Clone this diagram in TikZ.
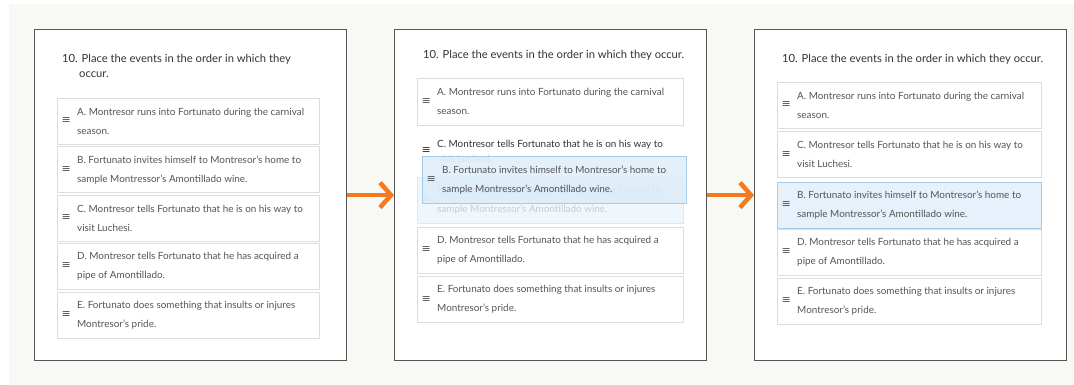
\documentclass[tikz,border=0pt]{standalone}
\usepackage{fontspec}
\setmainfont{Lato}
\newfontfamily\symfont{DejaVu Sans}
\usetikzlibrary{positioning,arrows.meta}

\definecolor{pagebg}{HTML}{F8F8F4}
\definecolor{panelgray}{HTML}{555555}
\definecolor{itemgray}{HTML}{DDDDDD}
\definecolor{textgray}{HTML}{555555}
\definecolor{titlegray}{HTML}{333333}
\definecolor{arroworange}{HTML}{F47A20}
\definecolor{dragblue}{HTML}{DCEBF8}
\definecolor{dragline}{HTML}{A3CBEA}
\definecolor{holdblue}{HTML}{EFF6FC}
\definecolor{holdline}{HTML}{DCEAF6}
\definecolor{hiblue}{HTML}{E6F1FB}
\definecolor{fadegray}{HTML}{C9CDD2}

\newlength{\itemw}
\newcommand{\handle}{{\symfont\fontsize{11pt}{11pt}\selectfont ≡}}
\newcommand{\qitem}[2]{\makebox[20pt][l]{\hspace{4.5pt}\handle}\parbox[c]{\dimexpr\itemw-20pt\relax}{#1\\#2}}

\tikzstyle{panel} = [rectangle, anchor=north west, minimum width=312pt, minimum height=331pt, inner sep=0pt, draw=panelgray, line width=1.2pt, fill=white]
\tikzstyle{title} = [anchor=base west, inner sep=0pt, font=\fontsize{11.2pt}{14pt}\selectfont, text=titlegray]
\tikzstyle{item} = [rectangle, anchor=north west, minimum height=46pt, inner sep=0pt, draw=itemgray, fill=white, font=\fontsize{9.9pt}{19pt}\selectfont, text=textgray]
\tikzstyle{arrow} = [line width=4.5pt, draw=arroworange, -{Straight Barb[length=11pt, width=25pt]}]

\begin{document}
\begin{tikzpicture}[x=1pt, y=-1pt]
  \useasboundingbox (0,0) rectangle (1074,385);
  \fill [pagebg] (9,4) rectangle (1074,385);

  % first panel: the starting order
  \node (p1) [panel] at (34,29) {};
  \node (t1) [title] at (62,63) {10. Place the events in the order in which they};
  \node (t1b) [title] at (79,78) {occur.};
  \setlength{\itemw}{262pt}
  \node (a1) [item] at (57,98) {\qitem{A. Montresor runs into Fortunato during the carnival}{season.}};
  \node (b1) [item, below=2pt of a1] {\qitem{B. Fortunato invites himself to Montresor's home to}{sample Montressor's Amontillado wine.}};
  \node (c1) [item, below=2pt of b1] {\qitem{C. Montresor tells Fortunato that he is on his way to}{visit Luchesi.}};
  \node (d1) [item, below=2pt of c1] {\qitem{D. Montresor tells Fortunato that he has acquired a}{pipe of Amontillado.}};
  \node (e1) [item, below=2pt of d1] {\qitem{E. Fortunato does something that insults or injures}{Montresor's pride.}};

  % second panel: B is being dragged
  \node (p2) [panel] at (394,29) {};
  \node (t2) [title] at (423,59) {10. Place the events in the order in which they occur.};
  \setlength{\itemw}{266pt}
  \node (a2) [item, minimum height=47pt] at (417,78) {\qitem{A. Montresor runs into Fortunato during the carnival}{season.}};
  \node (c2) [item, draw=none, fill=none, text=titlegray, font=\fontsize{9.9pt}{15.5pt}\selectfont] at (417,128) {\qitem{C. Montresor tells Fortunato that he is on his way to}{\color{fadegray}visit Luchesi.}};
  \node (b2) [item, draw=holdline, fill=holdblue, text=fadegray] at (417,177) {\qitem{B. Fortunato invites himself to Montresor's home to}{sample Montressor's Amontillado wine.}};
  \setlength{\itemw}{264pt}
  \node (b2drag) [item, minimum height=47pt, draw=dragline, fill=dragblue, fill opacity=0.8, text opacity=1] at (422,156) {\qitem{B. Fortunato invites himself to Montresor's home to}{sample Montressor's Amontillado wine.}};
  \setlength{\itemw}{266pt}
  \node (d2) [item] at (417,227) {\qitem{D. Montresor tells Fortunato that he has acquired a}{pipe of Amontillado.}};
  \node (e2) [item, below=3pt of d2] {\qitem{E. Fortunato does something that insults or injures}{Montresor's pride.}};

  % third panel: B dropped after C
  \node (p3) [panel] at (754,29) {};
  \node (t3) [title] at (782,63) {10. Place the events in the order in which they occur.};
  \setlength{\itemw}{264pt}
  \node (a3) [item] at (777,82) {\qitem{A. Montresor runs into Fortunato during the carnival}{season.}};
  \node (c3) [item, below=3pt of a3] {\qitem{C. Montresor tells Fortunato that he is on his way to}{visit Luchesi.}};
  \node (b3) [item, below=4pt of c3, draw=dragline, fill=hiblue] {\qitem{B. Fortunato invites himself to Montresor's home to}{sample Montressor's Amontillado wine.}};
  \node (d3) [item, below=1pt of b3] {\qitem{D. Montresor tells Fortunato that he has acquired a}{pipe of Amontillado.}};
  \node (e3) [item, below=2pt of d3] {\qitem{E. Fortunato does something that insults or injures}{Montresor's pride.}};

  \draw [arrow] (p1.east) -- (p2.west);
  \draw [arrow] (p2.east) -- (p3.west);
\end{tikzpicture}
\end{document}
